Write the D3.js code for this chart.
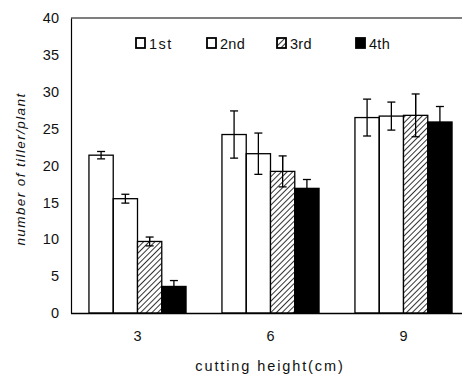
<!DOCTYPE html>
<html>
<head>
<meta charset="utf-8">
<script src="https://cdn.jsdelivr.net/npm/d3@7"></script>
<style>
  body { margin: 0; background: #fff; }
  svg text { font-family: "Liberation Sans", Arial, sans-serif; fill: #111; }
</style>
</head>
<body>
<div id="chart"></div>
<script>
const categories = ["3", "6", "9"];
const series = ["1st", "2nd", "3rd", "4th"];
// mean number of tillers per plant, one array per cut
const cut1 = [21.4, 24.2, 26.5];
const cut2 = [15.5, 21.6, 26.7];
const cut3 = [9.7, 19.2, 26.8];
const cut4 = [3.6, 16.9, 25.9];
// error bar half-widths
const err1 = [0.5, 3.2, 2.5];
const err2 = [0.6, 2.8, 1.9];
const err3 = [0.6, 2.1, 2.9];
const err4 = [0.8, 1.2, 2.1];
const yTicks = [0, 5, 10, 15, 20, 25, 30, 35, 40];

const width = 462, height = 376;
const margin = { top: 18, right: -8, bottom: 63, left: 71 };

const svg = d3.select("#chart").append("svg")
  .attr("width", width)
  .attr("height", height);

const defs = svg.append("defs");
const hatch = defs.append("pattern")
  .attr("id", "hatch")
  .attr("patternUnits", "userSpaceOnUse")
  .attr("width", 4).attr("height", 4)
  .attr("patternTransform", "rotate(45)");
hatch.append("rect").attr("width", 4).attr("height", 4).attr("fill", "#fff");
hatch.append("line")
  .attr("x1", 0).attr("y1", 0).attr("x2", 0).attr("y2", 4)
  .attr("stroke", "#000").attr("stroke-width", 1.6);

const fills = ["#fff", "#fff", "url(#hatch)", "#000"];

const x_scale = d3.scaleBand()
  .domain(categories)
  .range([margin.left, width - margin.right])
  .paddingInner(0.27)
  .paddingOuter(0.135);

const x_sub = d3.scaleBand()
  .domain(series)
  .range([0, x_scale.bandwidth()]);

const y_scale = d3.scaleLinear()
  .domain([0, 40])
  .range([height - margin.bottom, margin.top]);

const values = [cut1, cut2, cut3, cut4];
const errors = [err1, err2, err3, err4];

const bars = [];
series.forEach((s, si) => {
  categories.forEach((c, ci) => {
    bars.push({ s: s, si: si, c: c, v: values[si][ci], e: errors[si][ci] });
  });
});

// frame: top line
svg.append("line")
  .attr("x1", margin.left).attr("x2", width)
  .attr("y1", y_scale(40)).attr("y2", y_scale(40))
  .attr("stroke", "#000").attr("stroke-width", 1.2);

// error bars (drawn before bars so lower half hides inside dark bars)
const eb = svg.append("g").attr("stroke", "#000").attr("stroke-width", 1.3);
bars.forEach(d => {
  const cx = x_scale(d.c) + x_sub(d.s) + x_sub.bandwidth() / 2;
  const lo = y_scale(d.v - d.e), hi = y_scale(d.v + d.e);
  eb.append("line").attr("x1", cx).attr("x2", cx).attr("y1", lo).attr("y2", hi);
  eb.append("line").attr("x1", cx - 4).attr("x2", cx + 4).attr("y1", hi).attr("y2", hi);
  eb.append("line").attr("x1", cx - 4).attr("x2", cx + 4).attr("y1", lo).attr("y2", lo);
});

svg.append("g").selectAll("rect")
  .data(bars)
  .enter()
  .append("rect")
    .attr("x", d => x_scale(d.c) + x_sub(d.s))
    .attr("y", d => y_scale(d.v))
    .attr("width", x_sub.bandwidth())
    .attr("height", d => y_scale(0) - y_scale(d.v))
    .attr("fill", d => fills[d.si])
    .attr("fill-opacity", d => d.si < 2 ? 0 : 1)
    .attr("stroke", "#000")
    .attr("stroke-width", 1.3);

// error bars on top for the hatched bars
const eb2 = svg.append("g").attr("stroke", "#000").attr("stroke-width", 1.3);
bars.filter(d => d.si === 2).forEach(d => {
  const cx = x_scale(d.c) + x_sub(d.s) + x_sub.bandwidth() / 2;
  const lo = y_scale(d.v - d.e), hi = y_scale(d.v + d.e);
  eb2.append("line").attr("x1", cx).attr("x2", cx).attr("y1", lo).attr("y2", hi);
  eb2.append("line").attr("x1", cx - 4).attr("x2", cx + 4).attr("y1", lo).attr("y2", lo);
});

// y axis
const yAxis = svg.append("g")
  .attr("transform", `translate(${margin.left},0)`)
  .call(d3.axisLeft(y_scale).tickValues(yTicks).tickSize(0).tickPadding(12));
yAxis.select(".domain").attr("stroke", "#000").attr("stroke-width", 1.2);
yAxis.selectAll("text").style("font-size", "14.5px").attr("fill", "#111");

// x axis
const xAxis = svg.append("g")
  .attr("transform", `translate(0,${y_scale(0)})`)
  .call(d3.axisBottom(x_scale).tickSize(0).tickPadding(18));
xAxis.select(".domain").attr("d", `M${margin.left},0.5H${width}`)
  .attr("stroke", "#000").attr("stroke-width", 1.4);
xAxis.selectAll("text").style("font-size", "14.5px").attr("fill", "#111");

// axis titles
svg.append("text")
  .attr("x", 270).attr("y", 371)
  .attr("text-anchor", "middle")
  .style("font-size", "14.5px")
  .style("letter-spacing", "1.9px")
  .text("cutting height(cm)");

svg.append("text")
  .attr("transform", `translate(25,169) rotate(-90)`)
  .attr("text-anchor", "middle")
  .style("font-size", "13.5px")
  .style("font-style", "italic")
  .style("letter-spacing", "1.4px")
  .text("number of tiller/plant");

// legend
const legendX = [136, 207, 277, 356];
const legend = svg.append("g");
series.forEach((s, i) => {
  legend.append("rect")
    .attr("x", legendX[i]).attr("y", 38)
    .attr("width", 9).attr("height", 10)
    .attr("fill", fills[i])
    .attr("stroke", "#000").attr("stroke-width", 1.8);
  legend.append("text")
    .attr("x", legendX[i] + 13).attr("y", 48.5)
    .style("font-size", "14.5px")
    .style("letter-spacing", i === 0 ? "1.5px" : "0.3px")
    .text(s);
});
</script>
</body>
</html>
